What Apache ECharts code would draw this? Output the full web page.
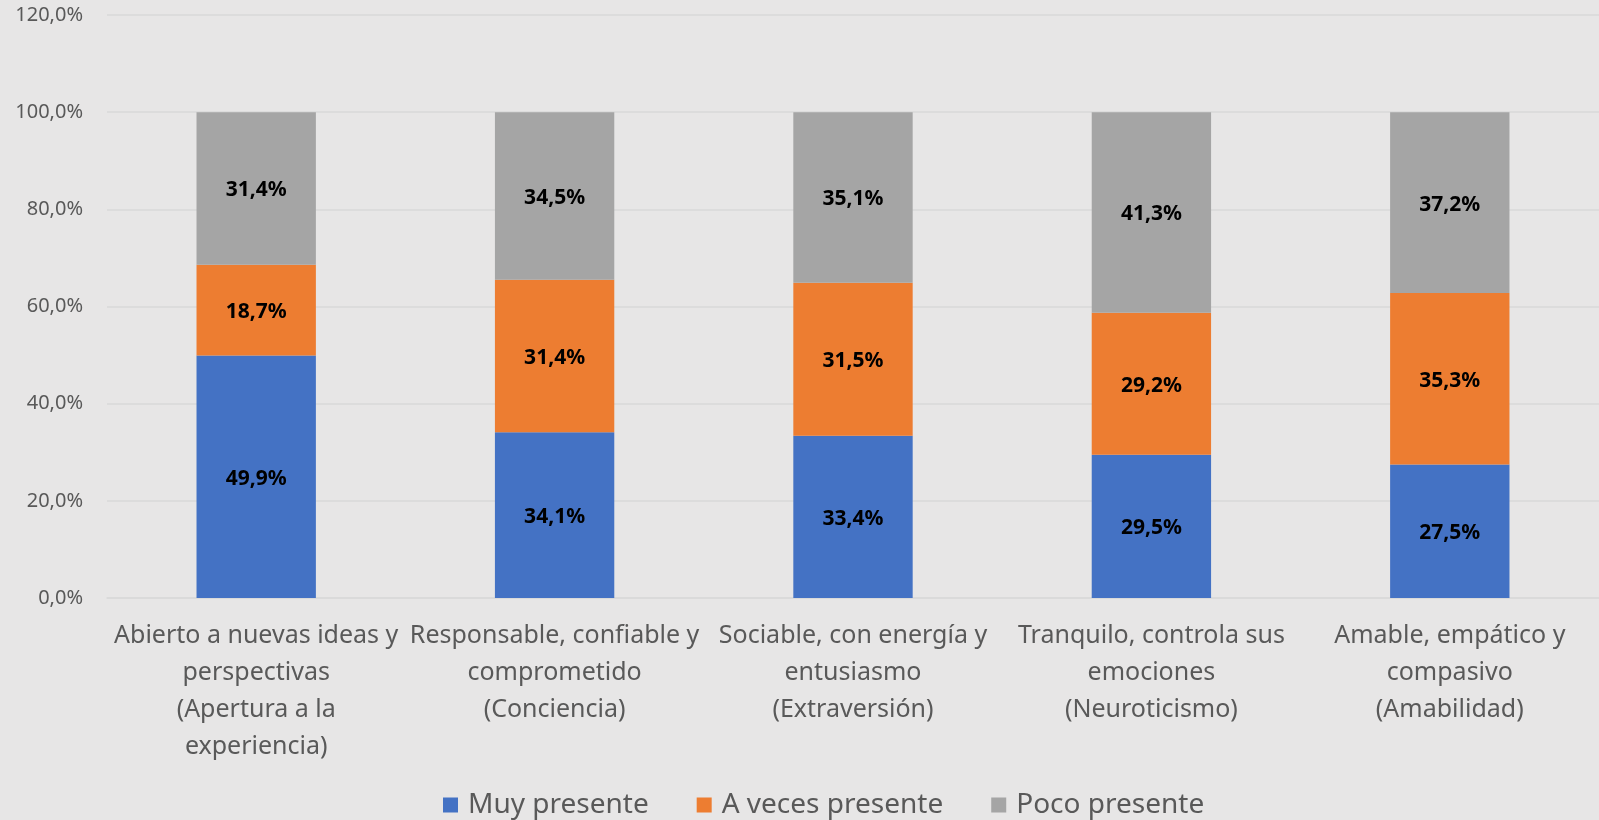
<!DOCTYPE html>
<html>
<head>
<meta charset="utf-8">
<script src="https://cdn.jsdelivr.net/npm/echarts@6/dist/echarts.min.js"></script>
<style>
html,body{margin:0;padding:0;background:#e7e6e6;}
#c{width:1599px;height:820px;}
</style>
</head>
<body>
<div id="c"></div>
<script>
const categories = [
  'Abierto a nuevas ideas y\nperspectivas\n(Apertura a la\nexperiencia)',
  'Responsable, confiable y\ncomprometido\n(Conciencia)',
  'Sociable, con energía y\nentusiasmo\n(Extraversión)',
  'Tranquilo, controla sus\nemociones\n(Neuroticismo)',
  'Amable, empático y\ncompasivo\n(Amabilidad)'
];
const seriesNames = ['Muy presente', 'A veces presente', 'Poco presente'];
const muyPresente = [49.9, 34.1, 33.4, 29.5, 27.5];
const aVecesPresente = [18.7, 31.4, 31.5, 29.2, 35.3];
const pocoPresente = [31.4, 34.5, 35.1, 41.3, 37.2];
const yTicks = [0, 20, 40, 60, 80, 100, 120];

const FONT = '"Noto Sans", sans-serif';
const colors = ['#4472c4', '#ed7d31', '#a5a5a5'];
const fmt = v => v.toFixed(1).replace('.', ',') + '%';

const chart = echarts.init(document.getElementById('c'), null, {renderer: 'canvas'});
const mk = (name, data, color) => ({
  name, type: 'bar', stack: 'total', data,
  barWidth: '40%',
  itemStyle: {color},
  label: {
    show: true, position: 'inside', offset: [0, 2],
    formatter: p => fmt(p.value),
    color: '#000', fontWeight: 'bold', fontSize: 21, fontFamily: FONT
  }
});
chart.setOption({
  backgroundColor: '#e7e6e6',
  animation: false,
  grid: {left: 107, right: 0, top: 15, bottom: 222, containLabel: false},
  legend: {
    data: seriesNames,
    bottom: -4, left: 438,
    itemWidth: 15, itemHeight: 15, itemGap: 48,
    icon: 'rect',
    textStyle: {fontSize: 28, color: '#595959', fontFamily: FONT, padding: [0,0,0,5]}
  },
  xAxis: {
    type: 'category', data: categories,
    axisLine: {show: true, lineStyle: {color: '#d9d9d9', width: 1.5}},
    axisTick: {show: false},
    axisLabel: {
      interval: 0, color: '#595959', fontSize: 25, lineHeight: 37, margin: 19,
      fontFamily: FONT
    }
  },
  yAxis: {
    type: 'value', min: yTicks[0], max: yTicks[yTicks.length-1], interval: 20,
    axisLine: {show: false}, axisTick: {show: false},
    splitLine: {lineStyle: {color: '#d9d9d9', width: 1.5}},
    axisLabel: {formatter: v => fmt(v), color: '#595959', fontSize: 20, margin: 24, fontFamily: FONT}
  },
  series: [
    mk(seriesNames[0], muyPresente, colors[0]),
    mk(seriesNames[1], aVecesPresente, colors[1]),
    mk(seriesNames[2], pocoPresente, colors[2])
  ]
});
</script>
</body>
</html>
